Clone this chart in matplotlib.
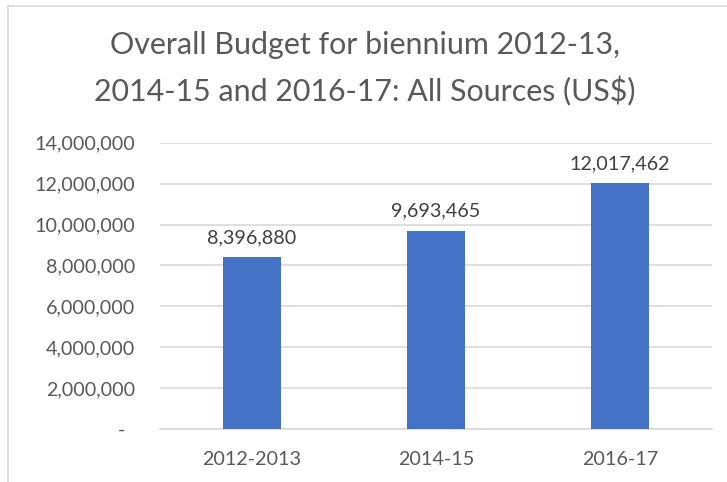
import matplotlib.pyplot as plt
from matplotlib.patches import Rectangle

categories = ['2012-2013', '2014-15', '2016-17']
budget = [8396880, 9693465, 12017462]
yticks = [0, 2000000, 4000000, 6000000, 8000000, 10000000, 12000000, 14000000]

grey = '#595959'
plt.rcParams['font.family'] = ['Lato', 'DejaVu Sans']

fig = plt.figure(figsize=(7.27, 4.82), dpi=100)
border = Rectangle((8 / 727, -0.1), 1.2, 1.1 - 6 / 482, transform=fig.transFigure,
                   facecolor='none', edgecolor='#D9D9D9', linewidth=1.2, zorder=-1)
fig.patches.append(border)

ax = fig.add_axes([160 / 727, 1 - 429 / 482, 552 / 727, 286.3 / 482])
x = list(range(len(categories)))
ax.bar(x, budget, width=0.31, color='#4472C4', zorder=3)
ax.set_xlim(-0.5, 2.5)
ax.set_ylim(0, 14000000)
ax.set_yticks(yticks)
ax.set_yticklabels(['-  '] + ['{:,}'.format(v) for v in yticks[1:]])
ax.set_xticks(x)
ax.set_xticklabels(categories)
ax.tick_params(axis='both', length=0, colors=grey, labelsize=14.2)
ax.tick_params(axis='y', pad=18)
ax.tick_params(axis='x', pad=16)
ax.grid(axis='y', color='#D9D9D9', linewidth=1.2, zorder=0)
for s in ['top', 'right', 'left']:
    ax.spines[s].set_visible(False)
ax.spines['bottom'].set_color('#D9D9D9')
ax.spines['bottom'].set_linewidth(1.2)
ax.set_facecolor('none')

for i in range(len(budget)):
    ax.annotate('{:,}'.format(budget[i]), (x[i], budget[i]), xytext=(0, 8),
                textcoords='offset points', ha='center', va='bottom',
                fontsize=14.2, color='#404040')

fig.text(365 / 727, 1 - 69 / 482, 'Overall Budget for biennium 2012-13,\n2014-15 and 2016-17: All Sources (US$)',
         ha='center', va='center', fontsize=21.9, color=grey, linespacing=1.68)

plt.savefig('out.png', dpi=100)
